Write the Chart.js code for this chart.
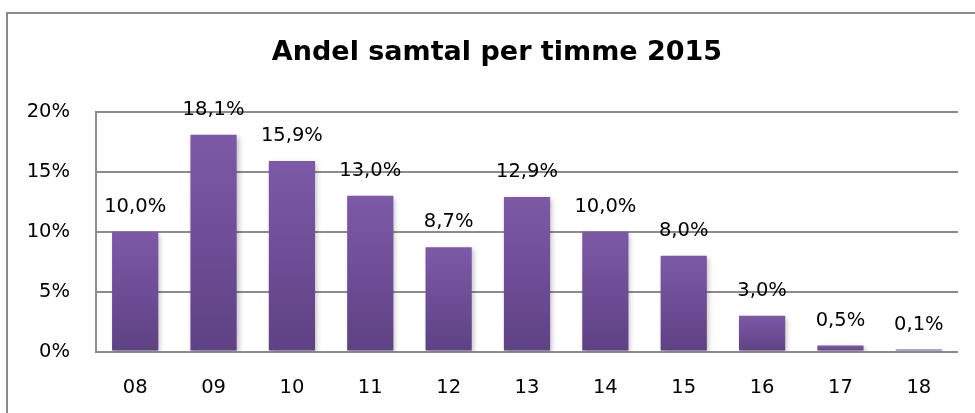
<!DOCTYPE html>
<html>
<head>
<meta charset="utf-8">
<script src="https://cdn.jsdelivr.net/npm/chart.js@4/dist/chart.umd.min.js"></script>
<style>
  html, body { margin: 0; padding: 0; background: #fff; overflow: hidden; }
  #frame { position: absolute; left: 6px; top: 12px; width: 990px; height: 430px; border: 2px solid #8a8a8a; }
  #wrap { position: absolute; left: 0; top: 0; width: 1000px; height: 430px; }
</style>
</head>
<body>
<div id="frame"></div>
<div id="wrap"><canvas id="chart" width="1000" height="430"></canvas></div>
<script>
var chartTitle = 'Andel samtal per timme 2015';
var hours = ['08', '09', '10', '11', '12', '13', '14', '15', '16', '17', '18'];
var shares = [10.0, 18.1, 15.9, 13.0, 8.7, 12.9, 10.0, 8.0, 3.0, 0.5, 0.1];
var yTicks = [0, 5, 10, 15, 20];

function barGradient(context) {
  var chart = context.chart;
  var y = chart.scales.y;
  if (!y || context.raw === undefined) return '#6d4d96';
  var top = y.getPixelForValue(context.raw);
  var bottom = y.getPixelForValue(0);
  if (!isFinite(top) || !isFinite(bottom) || bottom - top < 3) return '#6e4e98';
  var g = chart.ctx.createLinearGradient(0, top, 0, bottom);
  g.addColorStop(0, '#7d59a7');
  g.addColorStop(1, '#5e4284');
  return g;
}

function formatPct(v) {
  return v.toFixed(1).replace('.', ',') + '%';
}

// title is drawn by hand so it can sit off-centre like the original
var titlePlugin = {
  id: 'titlePlugin',
  afterDraw: function (chart) {
    var ctx = chart.ctx;
    ctx.save();
    ctx.font = 'bold 27px "DejaVu Sans"';
    ctx.fillStyle = '#000';
    ctx.textAlign = 'center';
    ctx.textBaseline = 'alphabetic';
    ctx.fillText(chartTitle, 497, 60);
    ctx.restore();
  }
};

var barShadow = {
  id: 'barShadow',
  beforeDatasetsDraw: function (chart) {
    var ctx = chart.ctx;
    ctx.save();
    ctx.shadowColor = 'rgba(0,0,0,0.25)';
    ctx.shadowBlur = 5;
    ctx.shadowOffsetX = 2;
    ctx.shadowOffsetY = 2;
  },
  afterDatasetsDraw: function (chart) {
    chart.ctx.restore();
  }
};

var valueLabels = {
  id: 'valueLabels',
  afterDatasetsDraw: function (chart) {
    var ctx = chart.ctx;
    var meta = chart.getDatasetMeta(0);
    ctx.save();
    ctx.font = '19.5px "DejaVu Sans"';
    ctx.fillStyle = '#000';
    ctx.textAlign = 'center';
    ctx.textBaseline = 'middle';
    meta.data.forEach(function (bar, i) {
      ctx.fillText(formatPct(shares[i]), bar.x, bar.y - 25);
    });
    ctx.restore();
  }
};

new Chart(document.getElementById('chart'), {
  type: 'bar',
  data: {
    labels: hours,
    datasets: [{
      label: 'Andel samtal',
      data: shares,
      backgroundColor: barGradient,
      borderWidth: 0,
      borderSkipped: false,
      minBarLength: 2,
      categoryPercentage: 1,
      barPercentage: 0.59
    }]
  },
  options: {
    responsive: false,
    animation: false,
    layout: { padding: { left: 20, right: 42, top: 112, bottom: 5 } },
    plugins: {
      legend: { display: false },
      tooltip: { enabled: false },
      title: { display: false }
    },
    scales: {
      x: {
        grid: { display: false, drawTicks: false },
        border: { display: false },
        ticks: {
          color: '#000',
          padding: 25,
          font: { family: '"DejaVu Sans"', size: 19.5 }
        }
      },
      y: {
        min: 0,
        max: 20,
        afterFit: function (scale) { scale.width = 76; },
        afterBuildTicks: function (scale) {
          scale.ticks = yTicks.map(function (v) { return { value: v }; });
        },
        grid: { color: '#8c8c8c', lineWidth: 2, drawTicks: false },
        border: { display: true, color: '#8c8c8c', width: 2 },
        ticks: {
          color: '#000',
          padding: 26,
          font: { family: '"DejaVu Sans"', size: 19.5 },
          callback: function (v) { return v + '%'; }
        }
      }
    }
  },
  plugins: [barShadow, valueLabels, titlePlugin]
});
</script>
</body>
</html>
